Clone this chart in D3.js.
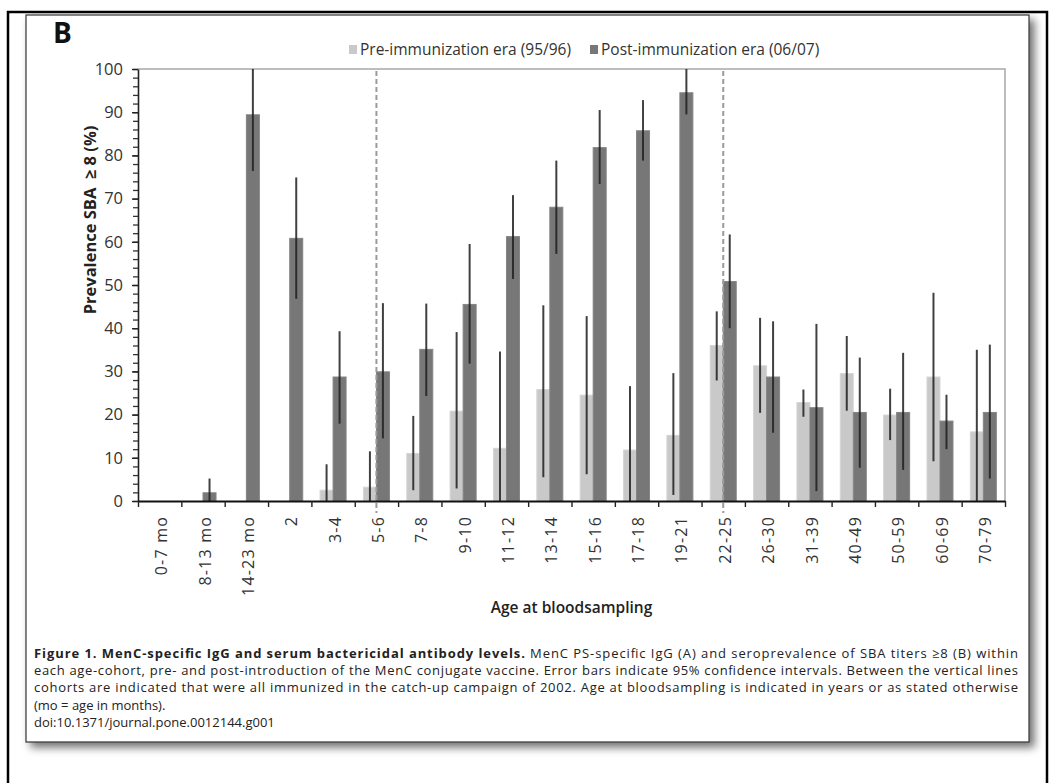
<!DOCTYPE html>
<html>
<head>
<meta charset="utf-8">
<script src="https://cdn.jsdelivr.net/npm/d3@7"></script>
<style>
  html, body { margin: 0; padding: 0; background: #fff; }
  svg { display: block; font-family: "Open Sans", "Noto Sans", sans-serif; }
</style>
</head>
<body>
<svg id="chart" width="1051" height="783"></svg>
<script>
// Age cohorts on the x axis
const categories = ["0-7 mo", "8-13 mo", "14-23 mo", "2", "3-4", "5-6", "7-8", "9-10", "11-12", "13-14",
  "15-16", "17-18", "19-21", "22-25", "26-30", "31-39", "40-49", "50-59", "60-69", "70-79"];

// Pre-immunization era (95/96): prevalence and 95% CI (null = no data)
const preValues = [null, null, null, null, 2.5, 3.2, 11.0, 20.8, 12.2, 25.8, 24.5, 11.8, 15.2, 36.0, 31.3, 22.8, 29.5, 19.9, 28.7, 16.0];
const preLow    = [null, null, null, null, 0, 0, 2.5, 2.9, 0, 5.5, 6.2, 0, 1.4, 27.9, 20.4, 19.5, 20.9, 14.1, 9.2, 0];
const preHigh   = [null, null, null, null, 8.5, 11.5, 19.7, 39.1, 34.6, 45.3, 42.8, 26.6, 29.6, 43.9, 42.4, 25.8, 38.2, 26.0, 48.2, 35.0];

// Post-immunization era (06/07): prevalence and 95% CI
const postValues = [null, 1.9, 89.4, 60.8, 28.7, 29.9, 35.1, 45.5, 61.2, 68.0, 81.8, 85.7, 94.5, 50.8, 28.7, 21.6, 20.5, 20.5, 18.5, 20.5];
const postLow    = [null, 0, 76.4, 46.8, 17.9, 14.5, 24.3, 31.8, 51.4, 57.2, 73.4, 78.8, 89.5, 40.0, 15.8, 2.3, 7.7, 7.2, 12.0, 5.2];
const postHigh   = [null, 5.2, 100, 74.9, 39.3, 45.8, 45.7, 59.5, 70.8, 78.8, 90.5, 92.8, 100, 61.7, 41.6, 41.0, 33.2, 34.3, 24.6, 36.2];

// Cohorts bounding the 2002 catch-up campaign
const campaignBounds = ["5-6", "22-25"];

// Axis ticks
const yMajorTicks = [0, 10, 20, 30, 40, 50, 60, 70, 80, 90, 100];
const yMinorTicks = d3.range(0, 101, 2);

const seriesNames = ["Pre-immunization era (95/96)", "Post-immunization era (06/07)"];
const seriesColors = ["#c9c9c9", "#777777"];

const captionLines = [
  [{ t: "Figure 1. MenC-specific IgG and serum bactericidal antibody levels.", b: true },
   { t: " MenC PS-specific IgG (A) and seroprevalence of SBA titers \u22658 (B) within", b: false }],
  [{ t: "each age-cohort, pre- and post-introduction of the MenC conjugate vaccine. Error bars indicate 95% confidence intervals. Between the vertical lines", b: false }],
  [{ t: "cohorts are indicated that were all immunized in the catch-up campaign of 2002. Age at bloodsampling is indicated in years or as stated otherwise", b: false }],
  [{ t: "(mo = age in months).", b: false }],
  [{ t: "doi:10.1371/journal.pone.0012144.g001", b: false }]
];

const svg = d3.select("#chart");

// ---- frame ----
const defs = svg.append("defs");
const shadow = defs.append("filter").attr("id", "shadow")
  .attr("x", "-5%").attr("y", "-5%").attr("width", "115%").attr("height", "115%");
shadow.append("feDropShadow").attr("dx", 5).attr("dy", 5).attr("stdDeviation", 4)
  .attr("flood-color", "#000").attr("flood-opacity", 0.55);

svg.append("rect").attr("x", 8).attr("y", 12).attr("width", 1039).attr("height", 800)
  .attr("fill", "#fff").attr("stroke", "#000").attr("stroke-width", 2.5);

svg.append("rect").attr("x", 26).attr("y", 15).attr("width", 1003).attr("height", 727)
  .attr("fill", "#fff").attr("stroke", "#333").attr("stroke-width", 1.2)
  .attr("filter", "url(#shadow)");

svg.append("text").attr("x", 53).attr("y", 43)
  .attr("font-size", 28).attr("font-weight", 700).attr("fill", "#111").text("B");

// ---- plot geometry ----
const plot = { left: 138, right: 1005, top: 69, bottom: 501 };

const x = d3.scaleBand().domain(categories).range([plot.left, plot.right]).padding(0);
const y = d3.scaleLinear().domain([0, 100]).range([plot.bottom, plot.top]);
const bw = x.bandwidth();
const barW = bw * 0.3;

const g = svg.append("g");

// plot frame (top and right)
g.append("path")
  .attr("d", `M${plot.left},${plot.top}H${plot.right}V${plot.bottom}`)
  .attr("fill", "none").attr("stroke", "#a8a8a8").attr("stroke-width", 1.5);

// bars
const rows = categories.map((c, i) => ({
  c,
  series: [
    { k: 0, v: preValues[i], lo: preLow[i], hi: preHigh[i] },
    { k: 1, v: postValues[i], lo: postLow[i], hi: postHigh[i] }
  ]
}));

const groups = g.selectAll("g.cohort").data(rows).join("g").attr("class", "cohort");

groups.selectAll("rect.bar")
  .data(d => d.series.filter(s => s.v !== null).map(s => ({ ...s, c: d.c })))
  .join("rect").attr("class", "bar")
  .attr("x", d => x(d.c) + bw * 0.2 + d.k * barW)
  .attr("width", barW)
  .attr("y", d => y(d.v))
  .attr("height", d => y(0) - y(d.v))
  .attr("fill", d => seriesColors[d.k])
  .attr("stroke", d => d.k === 0 ? "#d6d6d6" : "#858585")
  .attr("stroke-width", 1);

// vertical dashed lines around the catch-up campaign cohorts
g.selectAll("line.campaign").data(campaignBounds).join("line").attr("class", "campaign")
  .attr("x1", d => x(d) + bw / 2).attr("x2", d => x(d) + bw / 2)
  .attr("y1", plot.top + 2).attr("y2", plot.bottom + 12)
  .attr("stroke", "#9a9a9a").attr("stroke-width", 2).attr("stroke-dasharray", "5,3");

// error bars (95% CI)
groups.selectAll("line.err")
  .data(d => d.series.filter(s => s.v !== null).map(s => ({ ...s, c: d.c })))
  .join("line").attr("class", "err")
  .attr("x1", d => x(d.c) + bw * 0.2 + d.k * barW + barW / 2)
  .attr("x2", d => x(d.c) + bw * 0.2 + d.k * barW + barW / 2)
  .attr("y1", d => y(d.lo)).attr("y2", d => y(d.hi))
  .attr("stroke", "#1e1e1e").attr("stroke-width", 2).attr("stroke-opacity", 0.85);

// ---- y axis ----
const yMinor = g.append("g").attr("transform", `translate(${plot.left},0)`)
  .call(d3.axisLeft(y).tickValues(yMinorTicks).tickSize(5).tickFormat(""));
yMinor.select(".domain").remove();
yMinor.selectAll("line").attr("stroke", "#333").attr("stroke-width", 1.3);

const yAxis = g.append("g").attr("transform", `translate(${plot.left},0)`)
  .call(d3.axisLeft(y).tickValues(yMajorTicks).tickSize(6).tickPadding(9).tickSizeOuter(0));
yAxis.select(".domain").attr("stroke", "#222").attr("stroke-width", 1.6);
yAxis.selectAll("line").attr("stroke", "#222").attr("stroke-width", 1.4);
yAxis.selectAll("text").attr("font-size", 16.5).attr("fill", "#333")
  .attr("font-family", "'Open Sans', sans-serif");

// ---- x axis: ticks between cohorts, labels at cohort centres ----
const xb = d3.scaleLinear().domain([0, categories.length]).range([plot.left, plot.right]);
const xTicks = g.append("g").attr("transform", `translate(0,${plot.bottom})`)
  .call(d3.axisBottom(xb).tickValues(d3.range(0, categories.length + 1)).tickSize(6).tickFormat("").tickSizeOuter(0));
xTicks.select(".domain").attr("stroke", "#111").attr("stroke-width", 1.8);
xTicks.selectAll("line").attr("stroke", "#222").attr("stroke-width", 1.4);

const xLabels = g.append("g").attr("transform", `translate(0,${plot.bottom})`)
  .call(d3.axisBottom(x).tickSize(0));
xLabels.select(".domain").remove();
xLabels.selectAll("text")
  .attr("transform", "rotate(-90)")
  .attr("x", -15).attr("y", 2).attr("dy", "0.35em")
  .style("text-anchor", "end")
  .attr("font-size", 16).attr("letter-spacing", 1.2).attr("fill", "#333")
  .attr("font-family", "'Open Sans', sans-serif");

// axis titles
svg.append("text")
  .attr("transform", "translate(96,220) rotate(-90)")
  .attr("text-anchor", "middle").attr("font-size", 16.5).attr("font-weight", 700).attr("fill", "#222")
  .style("white-space", "pre")
  .text("Prevalence SBA  \u2265 8 (%)");

svg.append("text")
  .attr("x", (plot.left + plot.right) / 2).attr("y", 613)
  .attr("text-anchor", "middle").attr("font-size", 15.5).attr("font-weight", 600).attr("fill", "#222")
  .text("Age at bloodsampling");

// ---- legend ----
const legendItems = [
  { name: seriesNames[0], color: seriesColors[0], x: 349 },
  { name: seriesNames[1], color: seriesColors[1], x: 590 }
];
const leg = svg.append("g").selectAll("g").data(legendItems).join("g")
  .attr("transform", d => `translate(${d.x},50)`);
leg.append("rect").attr("x", 0).attr("y", -5).attr("width", 8).attr("height", 9).attr("fill", d => d.color);
leg.append("text").attr("x", 11).attr("y", 0).attr("dy", "0.35em")
  .attr("font-size", 15.5).attr("fill", "#333").text(d => d.name);

// ---- caption ----
const cap = svg.append("g").attr("font-size", 13).attr("fill", "#222");
captionLines.forEach((parts, i) => {
  const t = cap.append("text").attr("x", 34).attr("y", 658 + i * 17.2).style("white-space", "pre");
  if (i < 3) t.attr("textLength", 984).attr("lengthAdjust", "spacing");
  parts.forEach(p => t.append("tspan").attr("font-weight", p.b ? 700 : 400).text(p.t));
});
</script>
</body>
</html>
